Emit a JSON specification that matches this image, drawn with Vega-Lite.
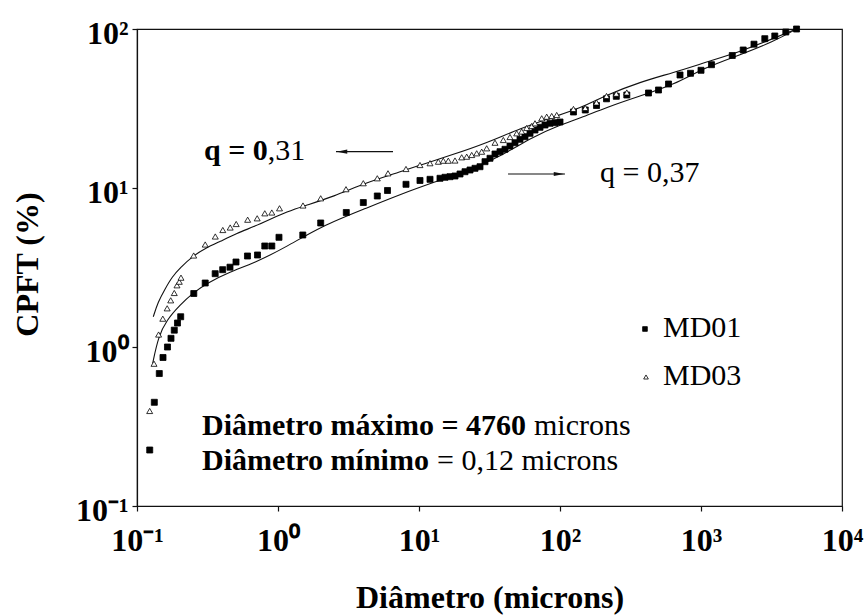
{
  "$schema": "https://vega.github.io/schema/vega-lite/v6.json",
  "width": 705,
  "height": 477,
  "autosize": {"type": "none"},
  "padding": {"left": 137, "top": 29, "right": 24, "bottom": 109},
  "background": "white",
  "config": {
    "view": {"stroke": "#111", "strokeWidth": 1.2},
    "font": "'Liberation Serif', 'Times New Roman', Times, serif",
    "axis": {
      "grid": false,
      "domainColor": "#111",
      "domainWidth": 1.2,
      "tickColor": "#111",
      "tickSize": 5,
      "tickWidth": 1.2,
      "labelFont": "'Liberation Serif', 'Times New Roman', Times, serif",
      "labelFontSize": 32,
      "labelFontWeight": "bold",
      "labelColor": "#000",
      "labelFlush": false,
      "labelOverlap": false,
      "titleFont": "'Liberation Serif', 'Times New Roman', Times, serif",
      "titleFontSize": 32,
      "titleFontWeight": "bold",
      "titleColor": "#000"
    }
  },
  "datasets": {
    "pts": [
      {"s": "MD01", "x": 0.1231, "y": 0.225},
      {"s": "MD01", "x": 0.1327, "y": 0.449},
      {"s": "MD01", "x": 0.1439, "y": 0.681},
      {"s": "MD01", "x": 0.1529, "y": 0.859},
      {"s": "MD01", "x": 0.1645, "y": 1.0},
      {"s": "MD01", "x": 0.1742, "y": 1.134},
      {"s": "MD01", "x": 0.1838, "y": 1.276},
      {"s": "MD01", "x": 0.1937, "y": 1.415},
      {"s": "MD01", "x": 0.2041, "y": 1.55},
      {"s": "MD01", "x": 0.2528, "y": 2.17},
      {"s": "MD01", "x": 0.3046, "y": 2.526},
      {"s": "MD01", "x": 0.3585, "y": 2.891},
      {"s": "MD01", "x": 0.4053, "y": 3.063},
      {"s": "MD01", "x": 0.4566, "y": 3.176},
      {"s": "MD01", "x": 0.5036, "y": 3.424},
      {"s": "MD01", "x": 0.6074, "y": 3.735},
      {"s": "MD01", "x": 0.7155, "y": 3.79},
      {"s": "MD01", "x": 0.806, "y": 4.318},
      {"s": "MD01", "x": 0.9038, "y": 4.318},
      {"s": "MD01", "x": 1.016, "y": 4.897},
      {"s": "MD01", "x": 1.499, "y": 5.063},
      {"s": "MD01", "x": 2.008, "y": 6.026},
      {"s": "MD01", "x": 3.05, "y": 7.014},
      {"s": "MD01", "x": 4.027, "y": 8.104},
      {"s": "MD01", "x": 5.062, "y": 8.907},
      {"s": "MD01", "x": 5.979, "y": 9.645},
      {"s": "MD01", "x": 8.086, "y": 10.55},
      {"s": "MD01", "x": 10.16, "y": 11.15},
      {"s": "MD01", "x": 11.97, "y": 11.34},
      {"s": "MD01", "x": 14.09, "y": 11.51},
      {"s": "MD01", "x": 15.29, "y": 11.68},
      {"s": "MD01", "x": 16.59, "y": 11.78},
      {"s": "MD01", "x": 18.0, "y": 11.9},
      {"s": "MD01", "x": 19.54, "y": 12.25},
      {"s": "MD01", "x": 21.2, "y": 12.66},
      {"s": "MD01", "x": 23.0, "y": 12.98},
      {"s": "MD01", "x": 24.96, "y": 13.3},
      {"s": "MD01", "x": 27.08, "y": 13.61},
      {"s": "MD01", "x": 29.39, "y": 14.64},
      {"s": "MD01", "x": 31.88, "y": 15.38},
      {"s": "MD01", "x": 34.59, "y": 16.36},
      {"s": "MD01", "x": 37.54, "y": 16.92},
      {"s": "MD01", "x": 40.73, "y": 17.52},
      {"s": "MD01", "x": 44.19, "y": 18.37},
      {"s": "MD01", "x": 47.96, "y": 19.27},
      {"s": "MD01", "x": 52.03, "y": 20.24},
      {"s": "MD01", "x": 56.47, "y": 21.02},
      {"s": "MD01", "x": 61.27, "y": 22.08},
      {"s": "MD01", "x": 66.48, "y": 23.16},
      {"s": "MD01", "x": 72.14, "y": 24.09},
      {"s": "MD01", "x": 78.27, "y": 24.9},
      {"s": "MD01", "x": 84.94, "y": 25.53},
      {"s": "MD01", "x": 92.16, "y": 25.75},
      {"s": "MD01", "x": 100.0, "y": 26.01},
      {"s": "MD01", "x": 124.6, "y": 30.06},
      {"s": "MD01", "x": 151.1, "y": 30.95},
      {"s": "MD01", "x": 181.5, "y": 33.03},
      {"s": "MD01", "x": 213.7, "y": 36.39},
      {"s": "MD01", "x": 250.8, "y": 37.73},
      {"s": "MD01", "x": 297.7, "y": 38.45},
      {"s": "MD01", "x": 424.3, "y": 39.58},
      {"s": "MD01", "x": 499.5, "y": 41.34},
      {"s": "MD01", "x": 588.3, "y": 45.09},
      {"s": "MD01", "x": 709.9, "y": 51.37},
      {"s": "MD01", "x": 842.5, "y": 52.65},
      {"s": "MD01", "x": 1000, "y": 55.0},
      {"s": "MD01", "x": 1187, "y": 59.64},
      {"s": "MD01", "x": 1667, "y": 68.13},
      {"s": "MD01", "x": 1992, "y": 73.79},
      {"s": "MD01", "x": 2376, "y": 80.27},
      {"s": "MD01", "x": 2835, "y": 86.9},
      {"s": "MD01", "x": 3337, "y": 90.36},
      {"s": "MD01", "x": 3995, "y": 95.74},
      {"s": "MD01", "x": 4760, "y": 100},
      {"s": "MD03", "x": 0.123, "y": 0.396},
      {"s": "MD03", "x": 0.132, "y": 0.785},
      {"s": "MD03", "x": 0.1423, "y": 1.198},
      {"s": "MD03", "x": 0.1524, "y": 1.507},
      {"s": "MD03", "x": 0.1637, "y": 1.751},
      {"s": "MD03", "x": 0.1734, "y": 1.966},
      {"s": "MD03", "x": 0.1838, "y": 2.186},
      {"s": "MD03", "x": 0.1921, "y": 2.444},
      {"s": "MD03", "x": 0.1995, "y": 2.574},
      {"s": "MD03", "x": 0.2051, "y": 2.729},
      {"s": "MD03", "x": 0.2524, "y": 3.763},
      {"s": "MD03", "x": 0.3046, "y": 4.413},
      {"s": "MD03", "x": 0.3591, "y": 4.955},
      {"s": "MD03", "x": 0.406, "y": 5.443},
      {"s": "MD03", "x": 0.4581, "y": 5.644},
      {"s": "MD03", "x": 0.5053, "y": 5.937},
      {"s": "MD03", "x": 0.6094, "y": 6.318},
      {"s": "MD03", "x": 0.712, "y": 6.447},
      {"s": "MD03", "x": 0.806, "y": 6.933},
      {"s": "MD03", "x": 0.9038, "y": 7.014},
      {"s": "MD03", "x": 1.025, "y": 7.454},
      {"s": "MD03", "x": 1.504, "y": 7.762},
      {"s": "MD03", "x": 2.008, "y": 8.615},
      {"s": "MD03", "x": 3.035, "y": 9.828},
      {"s": "MD03", "x": 4.027, "y": 10.72},
      {"s": "MD03", "x": 5.062, "y": 11.51},
      {"s": "MD03", "x": 6.027, "y": 12.37},
      {"s": "MD03", "x": 8.086, "y": 13.17},
      {"s": "MD03", "x": 10.16, "y": 13.95},
      {"s": "MD03", "x": 11.97, "y": 14.32},
      {"s": "MD03", "x": 13.71, "y": 14.64},
      {"s": "MD03", "x": 14.87, "y": 14.85},
      {"s": "MD03", "x": 16.14, "y": 14.85},
      {"s": "MD03", "x": 18.0, "y": 14.89},
      {"s": "MD03", "x": 20.08, "y": 15.6},
      {"s": "MD03", "x": 21.79, "y": 15.74},
      {"s": "MD03", "x": 23.65, "y": 16.13},
      {"s": "MD03", "x": 25.66, "y": 16.53},
      {"s": "MD03", "x": 27.84, "y": 16.92},
      {"s": "MD03", "x": 30.21, "y": 17.77},
      {"s": "MD03", "x": 34.59, "y": 19.27},
      {"s": "MD03", "x": 39.63, "y": 20.04},
      {"s": "MD03", "x": 44.19, "y": 20.93},
      {"s": "MD03", "x": 49.31, "y": 22.08},
      {"s": "MD03", "x": 53.5, "y": 22.66},
      {"s": "MD03", "x": 58.05, "y": 23.85},
      {"s": "MD03", "x": 63.0, "y": 24.55},
      {"s": "MD03", "x": 66.48, "y": 25.53},
      {"s": "MD03", "x": 74.18, "y": 27.44},
      {"s": "MD03", "x": 80.48, "y": 28.08},
      {"s": "MD03", "x": 87.33, "y": 28.37},
      {"s": "MD03", "x": 94.76, "y": 28.79},
      {"s": "MD03", "x": 124.6, "y": 31.4},
      {"s": "MD03", "x": 151.1, "y": 31.85},
      {"s": "MD03", "x": 181.5, "y": 34.49},
      {"s": "MD03", "x": 213.7, "y": 37.9},
      {"s": "MD03", "x": 250.8, "y": 39.19},
      {"s": "MD03", "x": 297.7, "y": 39.87}
    ],
    "curves": [
      {"c": "q031", "x": 0.1305, "y": 1.55},
      {"c": "q031", "x": 0.1409, "y": 1.919},
      {"c": "q031", "x": 0.158, "y": 2.316},
      {"c": "q031", "x": 0.1771, "y": 2.756},
      {"c": "q031", "x": 0.2018, "y": 3.14},
      {"c": "q031", "x": 0.2516, "y": 3.763},
      {"c": "q031", "x": 0.3036, "y": 4.164},
      {"c": "q031", "x": 0.3879, "y": 4.608},
      {"c": "q031", "x": 0.5119, "y": 5.189},
      {"c": "q031", "x": 0.6725, "y": 5.709},
      {"c": "q031", "x": 0.8819, "y": 6.357},
      {"c": "q031", "x": 1.158, "y": 7.095},
      {"c": "q031", "x": 1.521, "y": 7.704},
      {"c": "q031", "x": 2.467, "y": 8.818},
      {"c": "q031", "x": 4.257, "y": 10.83},
      {"c": "q031", "x": 7.332, "y": 12.61},
      {"c": "q031", "x": 11.03, "y": 14.26},
      {"c": "q031", "x": 17.51, "y": 16.24},
      {"c": "q031", "x": 30.21, "y": 19.19},
      {"c": "q031", "x": 52.03, "y": 23.67},
      {"c": "q031", "x": 89.65, "y": 27.96},
      {"c": "q031", "x": 138.6, "y": 31.71},
      {"c": "q031", "x": 214.4, "y": 38.45},
      {"c": "q031", "x": 369.3, "y": 46.42},
      {"c": "q031", "x": 636.1, "y": 53.11},
      {"c": "q031", "x": 1097, "y": 62.02},
      {"c": "q031", "x": 1890, "y": 71.99},
      {"c": "q031", "x": 3257, "y": 87.14},
      {"c": "q031", "x": 4760, "y": 100},
      {"c": "q037", "x": 0.1292, "y": 0.79},
      {"c": "q037", "x": 0.1416, "y": 1.161},
      {"c": "q037", "x": 0.1624, "y": 1.478},
      {"c": "q037", "x": 0.2018, "y": 1.837},
      {"c": "q037", "x": 0.2508, "y": 2.195},
      {"c": "q037", "x": 0.3121, "y": 2.515},
      {"c": "q037", "x": 0.4566, "y": 2.976},
      {"c": "q037", "x": 0.6725, "y": 3.36},
      {"c": "q037", "x": 1.158, "y": 4.274},
      {"c": "q037", "x": 1.986, "y": 5.709},
      {"c": "q037", "x": 4.257, "y": 7.486},
      {"c": "q037", "x": 7.332, "y": 9.102},
      {"c": "q037", "x": 12.63, "y": 10.83},
      {"c": "q037", "x": 21.79, "y": 12.79},
      {"c": "q037", "x": 37.54, "y": 15.74},
      {"c": "q037", "x": 64.65, "y": 21.02},
      {"c": "q037", "x": 100, "y": 24.9},
      {"c": "q037", "x": 138.6, "y": 27.44},
      {"c": "q037", "x": 214.4, "y": 32.18},
      {"c": "q037", "x": 369.3, "y": 37.9},
      {"c": "q037", "x": 636.1, "y": 44.44},
      {"c": "q037", "x": 1097, "y": 57.94},
      {"c": "q037", "x": 1890, "y": 68.63},
      {"c": "q037", "x": 3257, "y": 83.22},
      {"c": "q037", "x": 4760, "y": 100}
    ],
    "legendSymbols": [
      {"s": "MD01", "x": 400.6, "y": 1.298},
      {"s": "MD03", "x": 407.4, "y": 0.6477}
    ],
    "arrows": [
      {"x": 2.578, "x2": 6.54, "y": 16.92},
      {"x": 42.8, "x2": 108.5, "y": 12.25}
    ],
    "heads": [
      {"x": 2.843, "y": 16.92, "d": "L"},
      {"x": 98.4, "y": 12.25, "d": "R"}
    ],
    "texts": [
      {"x": 0.299, "y": 15.0, "t": "q = 0", "w": "b"},
      {"x": 0.8465, "y": 15.0, "t": ",31", "w": "n"},
      {"x": 192.2, "y": 10.91, "t": "q = 0,37", "w": "n"},
      {"x": 0.2891, "y": 0.2784, "t": "Diâmetro máximo = 4760", "w": "b"},
      {"x": 65.4, "y": 0.2784, "t": "microns", "w": "n"},
      {"x": 0.2891, "y": 0.1677, "t": "Diâmetro mínimo", "w": "b"},
      {"x": 13.42, "y": 0.1677, "t": "= 0,12 microns", "w": "n"},
      {"x": 537.7, "y": 1.156, "t": "MD01", "w": "n"},
      {"x": 537.7, "y": 0.5768, "t": "MD03", "w": "n"}
    ]
  },
  "encoding": {
    "x": {
      "field": "x",
      "type": "quantitative",
      "scale": {"type": "log", "domain": [0.1, 10000], "nice": false},
      "axis": {
        "values": [0.1, 1, 10, 100, 1000, 10000],
        "labelExpr": "datum.value < 0.5 ? '10⁻¹' : datum.value < 5 ? '10⁰' : datum.value < 50 ? '10¹' : datum.value < 500 ? '10²' : datum.value < 5000 ? '10³' : '10⁴'",
        "labelPadding": 14,
        "title": "Diâmetro (microns)",
        "titleY": 101,
        "titleBaseline": "alphabetic"
      }
    },
    "y": {
      "field": "y",
      "type": "quantitative",
      "scale": {"type": "log", "domain": [0.1, 100], "nice": false},
      "axis": {
        "values": [0.1, 1, 10, 100],
        "labelExpr": "datum.value < 0.5 ? '10⁻¹' : datum.value < 5 ? '10⁰' : datum.value < 50 ? '10¹' : '10²'",
        "labelPadding": 4,
        "labelOffset": 4,
        "labelBaseline": "middle",
        "title": "CPFT (%)",
        "titleX": -100,
        "titleY": 235,
        "titleAngle": -90,
        "titleBaseline": "alphabetic",
        "titleAlign": "center"
      }
    }
  },
  "layer": [
    {
      "data": {"name": "curves"},
      "mark": {"type": "line", "color": "#111", "strokeWidth": 1.1, "interpolate": "basis"},
      "encoding": {"detail": {"field": "c", "type": "nominal"}}
    },
    {
      "data": {"name": "pts"},
      "mark": {"type": "point", "filled": true, "stroke": "#000", "strokeWidth": 0.8, "opacity": 1, "size": 36},
      "encoding": {
        "shape": {
          "field": "s",
          "type": "nominal",
          "scale": {"domain": ["MD01", "MD03"], "range": ["square", "triangle-up"]},
          "legend": null
        },
        "fill": {
          "field": "s",
          "type": "nominal",
          "scale": {"domain": ["MD01", "MD03"], "range": ["#000", "#fff"]},
          "legend": null
        }
      }
    },
    {
      "data": {"name": "legendSymbols"},
      "mark": {"type": "point", "filled": true, "stroke": "#000", "strokeWidth": 0.8, "opacity": 1, "size": 22},
      "encoding": {
        "shape": {"field": "s", "type": "nominal", "legend": null},
        "fill": {"field": "s", "type": "nominal", "legend": null}
      }
    },
    {
      "data": {"name": "arrows"},
      "mark": {"type": "rule", "color": "#111", "strokeWidth": 1.2},
      "encoding": {"x2": {"field": "x2"}}
    },
    {
      "data": {"name": "heads"},
      "transform": [{"filter": "datum.d == 'L'"}],
      "mark": {"type": "point", "shape": "M -1 0 L 1 -0.4 L 1 0.4 Z", "filled": true, "color": "#111", "size": 110, "opacity": 1}
    },
    {
      "data": {"name": "heads"},
      "transform": [{"filter": "datum.d == 'R'"}],
      "mark": {"type": "point", "shape": "M 1 0 L -1 -0.4 L -1 0.4 Z", "filled": true, "color": "#111", "size": 110, "opacity": 1}
    },
    {
      "data": {"name": "texts"},
      "transform": [{"filter": "datum.w == 'b'"}],
      "mark": {"type": "text", "align": "left", "baseline": "alphabetic", "font": "'Liberation Serif', 'Times New Roman', Times, serif", "fontSize": 30, "fontWeight": "bold", "color": "#000"},
      "encoding": {"text": {"field": "t"}}
    },
    {
      "data": {"name": "texts"},
      "transform": [{"filter": "datum.w == 'n'"}],
      "mark": {"type": "text", "align": "left", "baseline": "alphabetic", "font": "'Liberation Serif', 'Times New Roman', Times, serif", "fontSize": 30, "fontWeight": "normal", "color": "#000"},
      "encoding": {"text": {"field": "t"}}
    }
  ]
}
